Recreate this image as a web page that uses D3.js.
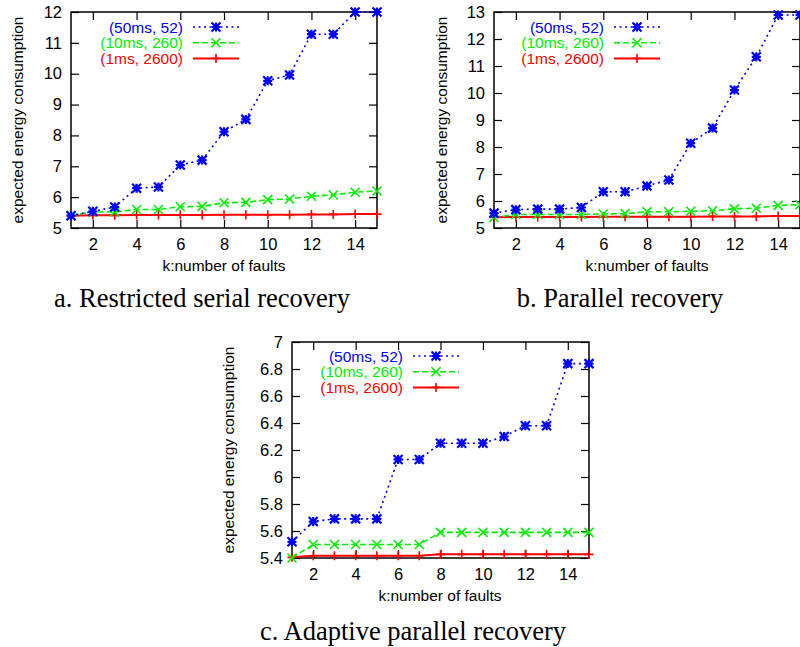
<!DOCTYPE html>
<html>
<head>
<meta charset="utf-8">
<script src="https://cdn.jsdelivr.net/npm/d3@7"></script>
<style>
  body { margin: 0; background: #fff; }
  svg { display: block; }
</style>
</head>
<body>
<div id="chart"></div>
<script>
"use strict";

/* DATA */

// number of faults on the x axis
let kValues = [1, 2, 3, 4, 5, 6, 7, 8, 9, 10, 11, 12, 13, 14, 15];
let xTicks = [2, 4, 6, 8, 10, 12, 14];

let seriesNames = ["(50ms, 52)", "(10ms, 260)", "(1ms, 2600)"];

// a. restricted serial recovery
let serialSlow = [5.40, 5.54, 5.68, 6.29, 6.33, 7.04, 7.20, 8.12, 8.52, 9.77, 9.96, 11.28, 11.28, 12.0, 12.0];
let serialMid = [5.41, 5.52, 5.52, 5.60, 5.60, 5.69, 5.70, 5.82, 5.83, 5.92, 5.94, 6.03, 6.07, 6.16, 6.20];
let serialFast = [5.40, 5.41, 5.41, 5.42, 5.42, 5.42, 5.42, 5.43, 5.43, 5.43, 5.43, 5.44, 5.44, 5.45, 5.45];
let serialYTicks = [5, 6, 7, 8, 9, 10, 11, 12];

// b. parallel recovery
let parallelSlow = [5.55, 5.68, 5.70, 5.70, 5.76, 6.34, 6.34, 6.56, 6.78, 8.14, 8.70, 10.11, 11.34, 12.89, 12.89];
let parallelMid = [5.39, 5.50, 5.50, 5.50, 5.50, 5.52, 5.53, 5.60, 5.60, 5.62, 5.64, 5.71, 5.73, 5.84, 5.86];
let parallelFast = [5.40, 5.41, 5.41, 5.41, 5.41, 5.42, 5.42, 5.42, 5.42, 5.42, 5.43, 5.43, 5.43, 5.44, 5.44];
let parallelYTicks = [5, 6, 7, 8, 9, 10, 11, 12, 13];

// c. adaptive parallel recovery
let adaptiveSlow = [5.52, 5.67, 5.69, 5.69, 5.69, 6.13, 6.13, 6.25, 6.25, 6.25, 6.30, 6.38, 6.38, 6.84, 6.84];
let adaptiveMid = [5.40, 5.50, 5.50, 5.50, 5.50, 5.50, 5.50, 5.59, 5.59, 5.59, 5.59, 5.59, 5.59, 5.59, 5.59];
let adaptiveFast = [5.405, 5.417, 5.417, 5.417, 5.417, 5.417, 5.417, 5.427, 5.427, 5.427, 5.427, 5.427, 5.427, 5.427, 5.427];
let adaptiveYTicks = [5.4, 5.6, 5.8, 6.0, 6.2, 6.4, 6.6, 6.8, 7.0];


/* SVG SETUP */

let svgWidth = 800;
let svgHeight = 647;

let svg = d3.select("#chart")
    .append("svg")
    .attr("width", svgWidth)
    .attr("height", svgHeight);

let sansFont = "'Liberation Sans', Arial, sans-serif";
let serifFont = "'Liberation Serif', 'Times New Roman', serif";

// line look for each series: colour, dash, marker
let styles = [
    { color: "#0000ff", dash: "2,3.5", marker: "star" },
    { color: "#00f000", dash: "6,3", marker: "cross" },
    { color: "#ff0000", dash: null, marker: "plus" }
];


/* MARKERS */

// gnuplot-like point symbols drawn as small paths
function markerPath(type, r) {
    let plus = `M${-r},0L${r},0M0,${-r}L0,${r}`;
    let cross = `M${-r},${-r}L${r},${r}M${-r},${r}L${r},${-r}`;
    if (type === "plus") return plus;
    if (type === "cross") return cross;
    return plus + cross;
}

function drawMarker(g, x, y, style) {
    g.append("path")
        .attr("transform", `translate(${x},${y})`)
        .attr("d", markerPath(style.marker, 4.5))
        .attr("fill", "none")
        .attr("stroke", style.color)
        .attr("stroke-width", style.marker === "star" ? 2.2 : 1.6);
}


/* PANEL */

function drawPanel(cfg) {

    let g = svg.append("g");

    let xScale = d3.scaleLinear()
        .domain([1, 15])
        .range([cfg.left, cfg.right]);

    let yScale = d3.scaleLinear()
        .domain(cfg.yDomain)
        .range([cfg.bottom, cfg.top]);

    let fmt = d => String(+d.toFixed(1));

    // left axis with inward ticks
    let left = g.append("g")
        .attr("transform", `translate(${cfg.left},0)`)
        .call(d3.axisLeft(yScale).tickValues(cfg.yTicks).tickFormat(fmt)
            .tickSizeInner(-8).tickSizeOuter(0).tickPadding(9));

    // bottom axis with inward ticks
    let bottom = g.append("g")
        .attr("transform", `translate(0,${cfg.bottom})`)
        .call(d3.axisBottom(xScale).tickValues(xTicks)
            .tickSizeInner(-8).tickSizeOuter(0).tickPadding(10));

    // mirrored ticks on right and top
    let right = g.append("g")
        .attr("transform", `translate(${cfg.right},0)`)
        .call(d3.axisRight(yScale).tickValues(cfg.yTicks).tickFormat("")
            .tickSizeInner(-8).tickSizeOuter(0));

    let top = g.append("g")
        .attr("transform", `translate(0,${cfg.top})`)
        .call(d3.axisTop(xScale).tickValues(xTicks).tickFormat("")
            .tickSizeInner(-8).tickSizeOuter(0));

    [left, bottom, right, top].forEach(a => {
        a.select(".domain").remove();
        a.selectAll("line").attr("stroke", "#000").attr("stroke-width", 1.2);
        a.selectAll("text")
            .attr("font-family", sansFont)
            .attr("font-size", "16.5px")
            .attr("fill", "#000");
    });

    // frame
    g.append("rect")
        .attr("x", cfg.left)
        .attr("y", cfg.top)
        .attr("width", cfg.right - cfg.left)
        .attr("height", cfg.bottom - cfg.top)
        .attr("fill", "none")
        .attr("stroke", "#000")
        .attr("stroke-width", 1.5);

    // series lines and markers (last series first so blue stays on top)
    let line = d3.line()
        .x((d, i) => xScale(kValues[i]))
        .y(d => yScale(d));

    for (let s = cfg.series.length - 1; s >= 0; s--) {
        let st = styles[s];
        g.append("path")
            .datum(cfg.series[s])
            .attr("d", line)
            .attr("fill", "none")
            .attr("stroke", st.color)
            .attr("stroke-width", s === 2 ? 2 : 1.6)
            .attr("stroke-dasharray", st.dash);

        cfg.series[s].forEach((v, i) => drawMarker(g, xScale(kValues[i]), yScale(v), st));
    }

    // legend
    seriesNames.forEach((name, s) => {
        let st = styles[s];
        let ly = cfg.legendY + s * 15.7;

        g.append("text")
            .attr("x", cfg.legendX)
            .attr("y", ly + 5.5)
            .attr("text-anchor", "end")
            .attr("font-family", sansFont)
            .attr("font-size", "15.5px")
            .attr("fill", st.color)
            .text(name);

        g.append("line")
            .attr("x1", cfg.legendX + 10)
            .attr("x2", cfg.legendX + 56)
            .attr("y1", ly)
            .attr("y2", ly)
            .attr("stroke", st.color)
            .attr("stroke-width", s === 2 ? 2 : 1.6)
            .attr("stroke-dasharray", st.dash);

        drawMarker(g, cfg.legendX + 33, ly, st);
    });

    // y axis label
    g.append("text")
        .attr("transform", `translate(${cfg.yLabelX},${(cfg.top + cfg.bottom) / 2}) rotate(-90)`)
        .attr("text-anchor", "middle")
        .attr("font-family", sansFont)
        .attr("font-size", "15.5px")
        .text("expected energy consumption");

    // x axis label
    g.append("text")
        .attr("x", cfg.xLabelX)
        .attr("y", cfg.bottom + 43)
        .attr("text-anchor", "middle")
        .attr("font-family", sansFont)
        .attr("font-size", "15.5px")
        .text("k:number of faults");

    // caption under the panel
    g.append("text")
        .attr("x", cfg.captionX)
        .attr("y", cfg.bottom + cfg.captionDy)
        .attr("text-anchor", "middle")
        .attr("font-family", serifFont)
        .attr("font-size", "26.5px")
        .text(cfg.caption);
}


/* DRAW THE THREE PANELS */

drawPanel({
    left: 71, right: 377, top: 12, bottom: 228,
    yDomain: [5, 12], yTicks: serialYTicks,
    series: [serialSlow, serialMid, serialFast],
    legendX: 183, legendY: 27,
    yLabelX: 23, xLabelX: 224,
    captionX: 202, captionDy: 79, caption: "a. Restricted serial recovery"
});

drawPanel({
    left: 494, right: 800, top: 12, bottom: 228,
    yDomain: [5, 13], yTicks: parallelYTicks,
    series: [parallelSlow, parallelMid, parallelFast],
    legendX: 604, legendY: 27,
    yLabelX: 447, xLabelX: 647,
    captionX: 620, captionDy: 79, caption: "b. Parallel recovery"
});

drawPanel({
    left: 292, right: 589, top: 342, bottom: 558,
    yDomain: [5.4, 7], yTicks: adaptiveYTicks,
    series: [adaptiveSlow, adaptiveMid, adaptiveFast],
    legendX: 403, legendY: 356,
    yLabelX: 234, xLabelX: 440,
    captionX: 413, captionDy: 82, caption: "c. Adaptive parallel recovery"
});
</script>
</body>
</html>
